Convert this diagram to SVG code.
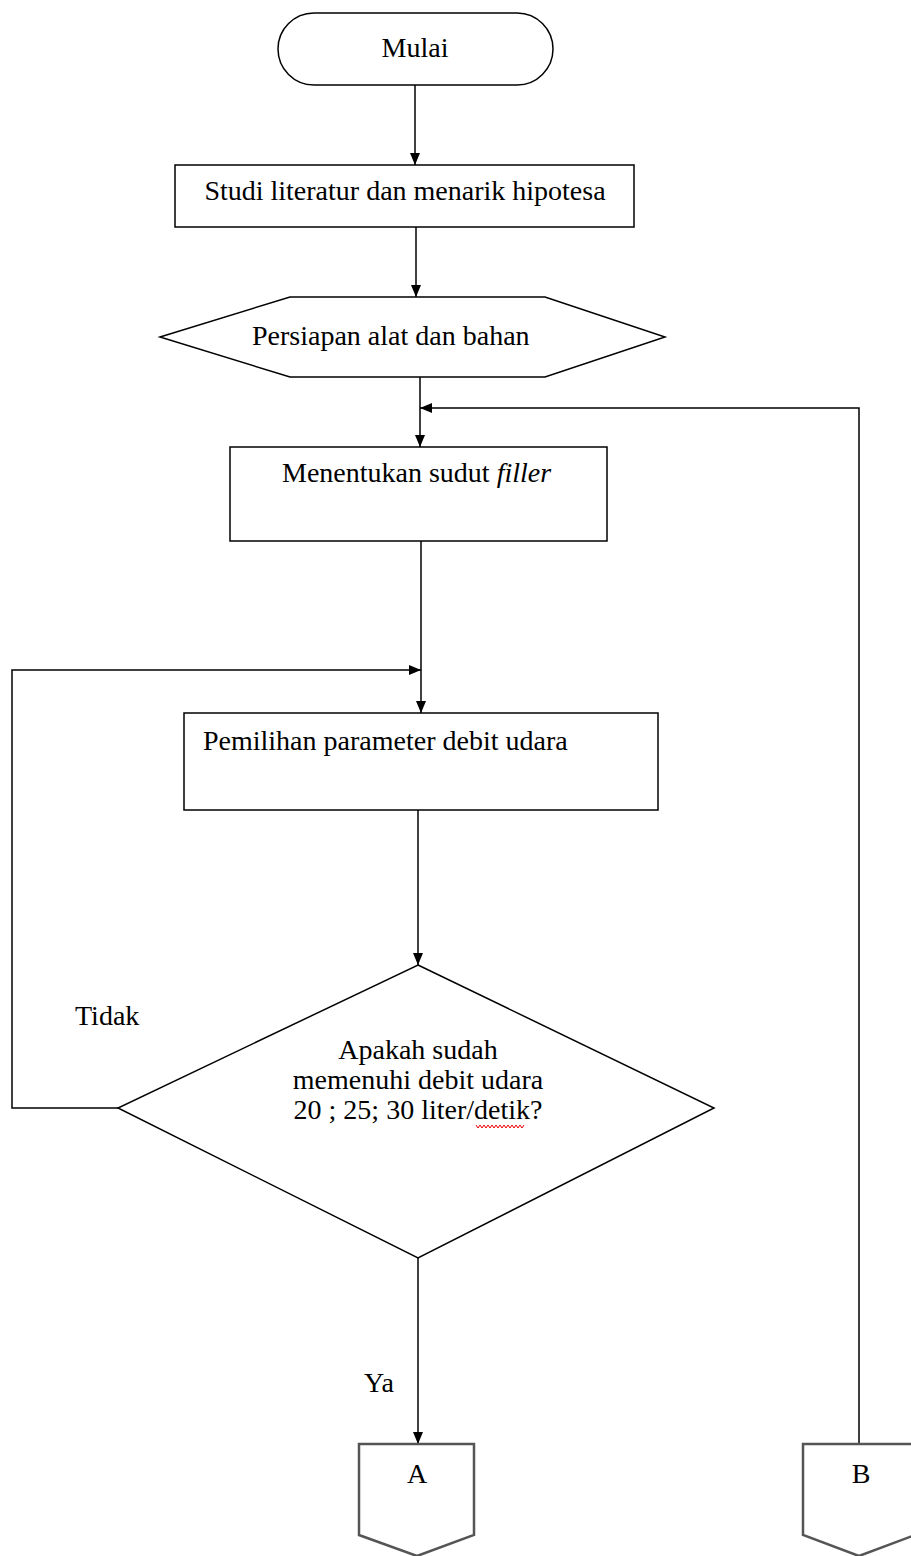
<svg xmlns="http://www.w3.org/2000/svg" width="911" height="1556" viewBox="0 0 911 1556">
<style>
.shape{fill:#fff;stroke:#000;stroke-width:1.5}
.conn{fill:#fff;stroke:#555;stroke-width:2.5}
.line{fill:none;stroke:#000;stroke-width:1.5}
text{font-family:"Liberation Serif","Times New Roman",serif;font-size:28px;fill:#000}
.c{text-anchor:middle}
</style>
<defs>
<marker id="arr" markerUnits="userSpaceOnUse" markerWidth="12" markerHeight="12" viewBox="0 0 12 12" refX="12" refY="6" orient="auto">
<path d="M0,1 L12,6 L0,11 z" fill="#000"/>
</marker>
</defs>
<rect width="911" height="1556" fill="#fff"/>
<g id="connectors">
<line class="line" x1="415" y1="85" x2="415" y2="165" marker-end="url(#arr)"/>
<line class="line" x1="416" y1="227" x2="416" y2="297" marker-end="url(#arr)"/>
<line class="line" x1="420" y1="377" x2="420" y2="447" marker-end="url(#arr)"/>
<polyline class="line" points="859,1444 859,408 420,408" marker-end="url(#arr)"/>
<line class="line" x1="421" y1="541" x2="421" y2="713" marker-end="url(#arr)"/>
<polyline class="line" points="118,1108 12,1108 12,670 421,670" marker-end="url(#arr)"/>
<line class="line" x1="418" y1="810" x2="418" y2="965" marker-end="url(#arr)"/>
<line class="line" x1="418" y1="1258" x2="418" y2="1444" marker-end="url(#arr)"/>
</g>
<g id="mulai">
<rect class="shape" x="278" y="13" width="275" height="72" rx="36" ry="36"/>
<text class="c" x="415" y="57">Mulai</text>
</g>
<g id="studi">
<rect class="shape" x="175" y="165" width="459" height="62"/>
<text class="c" x="405" y="200">Studi literatur dan menarik hipotesa</text>
</g>
<g id="persiapan">
<polygon class="shape" points="160,337 290,297 545,297 665,337 545,377 290,377"/>
<text x="252" y="345">Persiapan alat dan bahan</text>
</g>
<g id="menentukan">
<rect class="shape" x="230" y="447" width="377" height="94"/>
<text x="282" y="482">Menentukan sudut <tspan font-style="italic">filler</tspan></text>
</g>
<g id="pemilihan">
<rect class="shape" x="184" y="713" width="474" height="97"/>
<text x="203" y="750">Pemilihan parameter debit udara</text>
</g>
<g id="keputusan">
<polygon class="shape" points="418,965 714,1108 418,1258 118,1108"/>
<text class="c" x="418" y="1059">Apakah sudah</text>
<text class="c" x="418" y="1089">memenuhi debit udara</text>
<text class="c" x="418" y="1119">20 ; 25; 30 liter/detik?</text>
<polyline fill="none" stroke="#e00" stroke-width="1" points="476,1125 478,1128 480,1125 482,1128 484,1125 486,1128 488,1125 490,1128 492,1125 494,1128 496,1125 498,1128 500,1125 502,1128 504,1125 506,1128 508,1125 510,1128 512,1125 514,1128 516,1125 518,1128 520,1125 522,1128 524,1125"/>
</g>
<g id="label-tidak">
<text x="75" y="1025">Tidak</text>
</g>
<g id="label-ya">
<text x="364" y="1392">Ya</text>
</g>
<g id="A">
<polygon class="conn" points="359,1444 474,1444 474,1535 417,1556 359,1535"/>
<text class="c" x="417" y="1483">A</text>
</g>
<g id="B">
<polygon class="conn" points="803,1444 915,1444 915,1535 859,1556 803,1535"/>
<text class="c" x="861" y="1483">B</text>
</g>
</svg>
